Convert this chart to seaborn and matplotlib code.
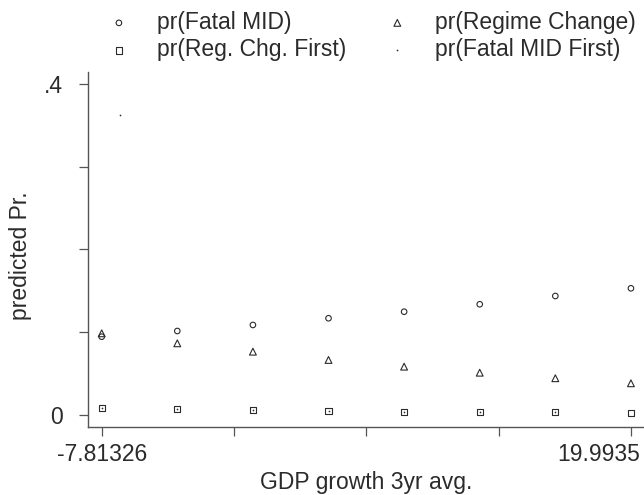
import numpy as np
import matplotlib
matplotlib.use("Agg")
import matplotlib.pyplot as plt
import seaborn as sns
from matplotlib.transforms import ScaledTranslation

# GDP growth values where predictions were evaluated
gdp = [-7.81326, -3.84086, 0.13154, 4.10394, 8.07634, 12.04874, 16.02114, 19.9935]

pr_fatal_mid = [0.0946, 0.1015, 0.1088, 0.1169, 0.1248, 0.1338, 0.1438, 0.1531]
pr_regime_change = [0.0987, 0.0866, 0.0765, 0.0665, 0.0584, 0.0511, 0.0444, 0.0383]
pr_reg_chg_first = [0.0081, 0.0073, 0.0057, 0.0048, 0.0033, 0.0033, 0.0033, 0.0021]

# fatal MID first: one high point near the left edge, the rest sit inside the squares
gdp_fmf = [-6.852, -7.81326, -3.84086, 0.13154, 4.10394, 8.07634, 12.04874, 16.02114]
pr_fatal_mid_first = [0.3625, 0.0086, 0.0078, 0.0062, 0.0053, 0.0038, 0.0038, 0.0038]

x_ticks = [-7.81326, -0.86157, 6.09012, 13.04181, 19.9935]
x_labels = ["-7.81326", "", "", "", "19.9935"]
y_ticks = [0, 0.1, 0.2, 0.3, 0.4]
y_labels = ["0", "", "", "", ".4"]

sns.set_style("white")
plt.rcParams["font.family"] = ["Liberation Sans", "DejaVu Sans"]
FS = 16.5
ink = "#2b2b2b"

fig = plt.figure(figsize=(6.44, 4.95), dpi=100)
ax = fig.add_axes([88.3 / 644, 67.7 / 495, (644 - 88.3) / 644, (427.3 - 71.7) / 495])

common = dict(ax=ax, facecolor="none", edgecolor=ink, linewidth=0.8)
sns.scatterplot(x=gdp, y=pr_fatal_mid, marker="o", s=16, label="pr(Fatal MID)", **common)
sns.scatterplot(x=gdp, y=pr_reg_chg_first, marker="s", s=20, label="pr(Reg. Chg. First)", **common)
sns.scatterplot(x=gdp, y=pr_regime_change, marker="^", s=24, label="pr(Regime Change)", **common)
sns.scatterplot(x=gdp_fmf, y=pr_fatal_mid_first, marker=".", s=6, color=ink, edgecolor=ink,
                linewidth=0, label="pr(Fatal MID First)", ax=ax)

ax.set_xlim(-8.517, 20.68)
ax.set_ylim(-0.0149, 0.4149)
ax.set_xticks(x_ticks)
ax.set_xticklabels(x_labels)
ax.set_yticks(y_ticks)
ax.set_yticklabels(y_labels)

for side in ["top", "right"]:
    ax.spines[side].set_visible(False)
for side in ["left", "bottom"]:
    ax.spines[side].set_color("#555555")
    ax.spines[side].set_linewidth(1.0)

ax.tick_params(axis="both", length=6.3, width=0.9, color="#555555", labelsize=FS,
               labelcolor=ink)
ax.tick_params(axis="x", bottom=True, pad=5)
ax.tick_params(axis="y", left=True, pad=12)

# right-hand x label is pulled inside the figure, as in the original
xt = ax.get_xticklabels()
xt[-1].set_horizontalalignment("right")
xt[-1].set_transform(xt[-1].get_transform() + ScaledTranslation(9 / 100, 0, fig.dpi_scale_trans))

ax.set_xlabel("GDP growth 3yr avg.", fontsize=FS, color=ink, labelpad=3.5)
ax.set_ylabel("predicted Pr.", fontsize=FS, color=ink)
ax.yaxis.set_label_coords(-0.102, 0.482)

handles, labels = ax.get_legend_handles_labels()
ax.get_legend().remove()
fig.legend(handles, labels, ncol=2, loc="upper left", bbox_to_anchor=(96 / 644, 0.978),
           frameon=False, fontsize=FS, handlelength=2, handletextpad=0.66,
           columnspacing=1.23, labelspacing=0.2, borderpad=0, borderaxespad=0,
           scatterpoints=1, labelcolor=ink)

fig.savefig("out.png", dpi=100)
